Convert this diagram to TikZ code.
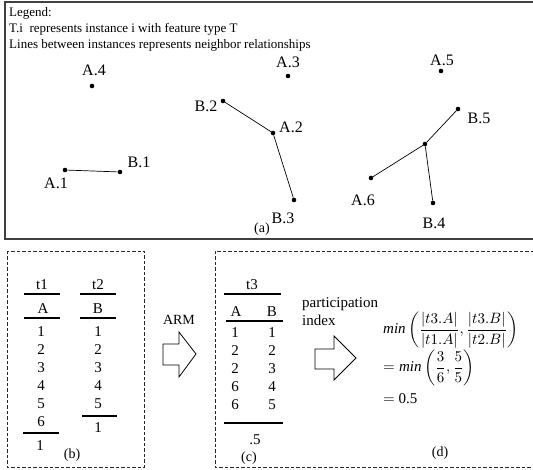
\documentclass[tikz,border=0pt]{standalone}
\usepackage{amsmath}
\usepackage{graphicx}
\usepackage{fontspec}
\setmainfont{Liberation Serif}
\begin{document}
\begin{tikzpicture}[x=1pt,y=-1pt,
  dot/.style={circle,fill=black,inner sep=0pt,minimum size=4.6pt},
  lbl/.style={inner sep=0pt,font=\fontsize{16}{19}\selectfont},
  leg/.style={inner sep=0pt,anchor=west,font=\fontsize{13}{15}\selectfont},
  tb/.style={inner sep=0pt,font=\fontsize{15}{17}\selectfont},
  fm/.style={inner sep=0pt,anchor=west,font=\fontsize{10}{12}\selectfont},
  captxt/.style={inner sep=0pt,font=\fontsize{14}{16}\selectfont},
  rulebar/.style={line width=1.2pt},
  nb/.style={line width=0.7pt},
  frame/.style={draw=black!75,line width=1.2pt},
  dbox/.style={line width=0.8pt,dash pattern=on 3.5pt off 2pt,draw=black!85},
  barrow/.style={draw=black,line width=0.8pt,fill=white}]
\useasboundingbox (0,0) rectangle (533,470);

% top frame
\draw[frame] (545,2) -- (5,2) -- (5,239) -- (545,239);
\node[leg] (leg1) at (9,13) {Legend:};
\node[leg] (leg2) at (9,29) {T.i\ \ represents instance i with feature type T};
\node[leg] (leg3) at (9,45) {Lines between instances represents neighbor relationships};

% instances
\node[dot] (a4) at (92,86) {};
\node[dot] (a3) at (288,76) {};
\node[dot] (a5) at (441,71) {};
\node[dot] (b2) at (223,101) {};
\node[dot] (a2) at (273,133) {};
\node[dot] (b3) at (294,200) {};
\node[dot] (a1) at (65,170) {};
\node[dot] (b1) at (120,172) {};
\node[dot] (b5) at (458,109) {};
\node[dot] (c6) at (425,144) {};
\node[dot] (a6) at (371,178) {};
\node[dot] (b4) at (433,203) {};

\node[lbl] (la4) at (94,70) {A.4};
\node[lbl] (la3) at (288,62) {A.3};
\node[lbl] (la5) at (442,60) {A.5};
\node[lbl] (lb2) at (206,106) {B.2};
\node[lbl] (la2) at (291,127) {A.2};
\node[lbl] (lb3) at (283,218) {B.3};
\node[lbl] (la1) at (56,183) {A.1};
\node[lbl] (lb1) at (139,162) {B.1};
\node[lbl] (lb5) at (479,118) {B.5};
\node[lbl] (la6) at (363,200) {A.6};
\node[lbl] (lb4) at (434,223) {B.4};
\node[captxt] (capa) at (262,229) {(a)};

\draw[nb] (a1) -- (b1);
\draw[nb] (b2) -- (a2);
\draw[nb] (a2) -- (b3);
\draw[nb] (a6) -- (c6);
\draw[nb] (c6) -- (b5);
\draw[nb] (c6) -- (b4);

% dashed boxes
\draw[dbox] (7,251) rectangle (144,467);
\draw[dbox] (545,251) -- (215,251) -- (215,467) -- (545,467);

% table t1, t2
\node[tb] (t1) at (42,285) {t1};
\node[tb] (t2) at (98,285) {t2};
\draw[rulebar] (24,294) -- (60,294);
\draw[rulebar] (80,294) -- (116,294);
\node[tb] (hA) at (43,309) {A};
\node[tb] (hB) at (98,309) {B};
\draw[rulebar] (24,318) -- (60,318);
\draw[rulebar] (80,318) -- (116,318);
\foreach \v/\y in {1/332,2/350,3/368,4/386,5/404,6/422}
  \node[tb] (r1\v) at (41,\y) {\v};
\foreach \v/\y in {1/332,2/350,3/368,4/386,5/404}
  \node[tb] (r2\v) at (98,\y) {\v};
\draw[rulebar] (23,433) -- (59,433);
\node[tb] (c1) at (40,446) {1};
\draw[rulebar] (82,416) -- (117,416);
\node[tb] (c2) at (98,428) {1};
\node[captxt] (capb) at (72,455) {(b)};

% ARM arrow
\node[tb,font=\fontsize{14}{16}\selectfont] (arm) at (179,320) {ARM};
\draw[barrow] (163,344) -- (179,344) -- (179,332) -- (196,354) -- (179,377) -- (179,365) -- (163,365) -- cycle;

% table t3
\node[tb] (t3) at (252,285) {t3};
\draw[rulebar] (224,294) -- (281,294);
\node[tb] (h3A) at (236,312) {A};
\node[tb] (h3B) at (272,312) {B};
\draw[rulebar] (226,321) -- (283,321);
\foreach \a/\b/\y in {1/1/333,2/2/351,2/3/369,6/4/387,6/5/405}{
  \node[tb] at (235,\y) {\a};
  \node[tb] at (272,\y) {\b};
}
\draw[rulebar] (224,423) -- (283,423);
\node[tb] (c3) at (255,440) {.5};
\node[captxt] (capc) at (249,458) {(c)};

% participation index arrow
\node[tb,anchor=west] (pi1) at (302,304) {participation};
\node[tb,anchor=west] (pi2) at (302,320) {index};
\draw[barrow] (315,349) -- (334,349) -- (334,336) -- (356,358) -- (334,380) -- (334,369) -- (315,369) -- cycle;

% formula
\node[fm] (f1) at (383,330) {\scalebox{1.5}{$\mathit{min}\left(\dfrac{|t3.A|}{|t1.A|},\dfrac{|t3.B|}{|t2.B|}\right)$}};
\node[fm] (f2) at (383,368) {\scalebox{1.5}{$=\mathit{min}\left(\dfrac{3}{6},\dfrac{5}{5}\right)$}};
\node[fm] (f3) at (383,399) {\scalebox{1.5}{$=$ 0.5}};
\node[captxt] (capd) at (440,453) {(d)};
\end{tikzpicture}
\end{document}
